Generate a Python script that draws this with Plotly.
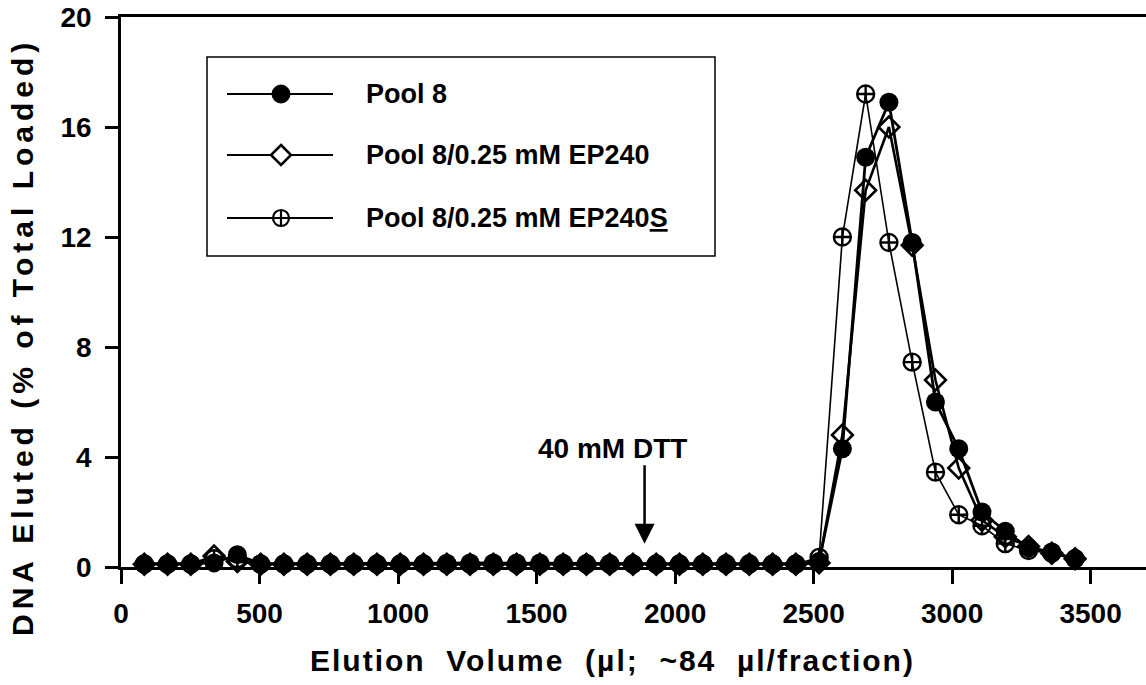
import plotly.graph_objects as go

# ---------------- data ----------------
elution_volume = [84, 168, 252, 336, 420, 504, 588, 672, 756, 840, 924, 1008, 1092, 1176,
                  1260, 1344, 1428, 1512, 1596, 1680, 1764, 1848, 1932, 2016, 2100, 2184,
                  2268, 2352, 2436, 2520, 2604, 2688, 2772, 2856, 2940, 3024, 3108, 3192,
                  3276, 3360, 3444]

pool8 = [0.12, 0.12, 0.12, 0.15, 0.45, 0.12, 0.12, 0.12, 0.12, 0.12, 0.12, 0.12, 0.12, 0.14,
         0.15, 0.15, 0.15, 0.15, 0.14, 0.13, 0.13, 0.12, 0.12, 0.12, 0.12, 0.13, 0.13,
         0.12, 0.12, 0.2, 4.3, 14.9, 16.9, 11.8, 6.0, 4.3, 2.0, 1.3, 0.7, 0.55, 0.3]

pool8_ep240 = [0.1, 0.1, 0.1, 0.4, 0.2, 0.1, 0.1, 0.1, 0.1, 0.1, 0.1, 0.1, 0.1, 0.1,
               0.1, 0.1, 0.1, 0.1, 0.1, 0.1, 0.1, 0.1, 0.1, 0.1, 0.1, 0.1, 0.1,
               0.1, 0.1, 0.15, 4.8, 13.7, 16.0, 11.7, 6.8, 3.6, 1.7, 1.1, 0.75, 0.5, 0.3]

pool8_ep240s = [0.1, 0.1, 0.1, 0.3, 0.3, 0.1, 0.1, 0.1, 0.1, 0.1, 0.1, 0.1, 0.1, 0.1,
                0.1, 0.1, 0.1, 0.1, 0.1, 0.1, 0.1, 0.1, 0.1, 0.1, 0.1, 0.1, 0.1,
                0.1, 0.1, 0.35, 12.0, 17.2, 11.8, 7.45, 3.45, 1.9, 1.5, 0.85, 0.6, 0.5, 0.3]

series_names = ["Pool 8", "Pool 8/0.25 mM EP240",
                "Pool 8/0.25 mM EP240<span style=\"text-decoration:underline\">S</span>"]
x_ticks = [0, 500, 1000, 1500, 2000, 2500, 3000, 3500]
y_ticks = [0, 4, 8, 12, 16, 20]
dtt_volume = 1890
dtt_label = "40 mM DTT"
x_title = "Elution  Volume  (µl;  ~84  µl/fraction)"
y_title = "DNA Eluted (% of Total Loaded)"

# ---------------- layout geometry ----------------
W, H = 1146, 685
L, R, T, B = 121, 0, 17, 118
PW, PH = W - L - R, H - T - B
FONT = "Liberation Sans, Arial, Helvetica, sans-serif"


def px(xp):
    return (xp - L) / PW


def py(yp):
    return (T + PH - yp) / PH


fig = go.Figure()

fig.add_trace(go.Scatter(
    x=elution_volume, y=pool8_ep240s, mode="lines+markers", cliponaxis=False,
    line=dict(color="black", width=1.6),
    marker=dict(symbol="circle-cross-open", size=17, color="black", line=dict(width=2.4, color="black")),
    showlegend=False))
fig.add_trace(go.Scatter(
    x=elution_volume, y=pool8_ep240, mode="lines+markers", cliponaxis=False,
    line=dict(color="black", width=2.6),
    marker=dict(symbol="diamond-open", size=16, color="black", line=dict(width=2.6, color="black")),
    showlegend=False))
fig.add_trace(go.Scatter(
    x=elution_volume, y=pool8, mode="lines+markers", cliponaxis=False,
    line=dict(color="black", width=2.8),
    marker=dict(symbol="circle", size=19, color="black"),
    showlegend=False))

shapes = []
annotations = []

# legend box
shapes.append(dict(type="rect", xref="paper", yref="paper", x0=px(207), x1=px(715), y0=py(57), y1=py(256),
                   line=dict(color="black", width=1.5), fillcolor="white", layer="above"))
legend_rows = [94, 155, 218]
for i, (yy, name) in enumerate(zip(legend_rows, series_names)):
    shapes.append(dict(type="line", xref="paper", yref="paper", x0=px(227), x1=px(333), y0=py(yy), y1=py(yy),
                       line=dict(color="black", width=2), layer="above"))
    common = dict(xref="paper", yref="paper", xsizemode="pixel", ysizemode="pixel",
                  xanchor=px(281), yanchor=py(yy), layer="above")
    if i == 0:
        shapes.append(dict(type="circle", x0=-9, x1=9, y0=-9, y1=9, fillcolor="black",
                           line=dict(color="black", width=1), **common))
    elif i == 1:
        shapes.append(dict(type="path", path="M0,10 L10,0 L0,-10 L-10,0 Z", fillcolor="white",
                           line=dict(color="black", width=2.6), **common))
    else:
        shapes.append(dict(type="circle", x0=-8, x1=8, y0=-8, y1=8, fillcolor="white",
                           line=dict(color="black", width=2.2), **common))
        shapes.append(dict(type="path", path="M-8,0 L8,0 M0,-8 L0,8",
                           line=dict(color="black", width=2.2), **common))
    annotations.append(dict(xref="paper", yref="paper", x=px(364), y=py(yy), xanchor="left", yanchor="middle",
                            text=name, showarrow=False,
                            font=dict(family=FONT, size=27, color="black", weight="bold")))

# DTT arrow
annotations.append(dict(x=dtt_volume, y=0.85, xref="x", yref="y", text="", showarrow=True,
                        ax=0, ay=-80, axref="pixel", ayref="pixel", arrowhead=2, arrowsize=1.6,
                        arrowwidth=2.5, arrowcolor="black"))
annotations.append(dict(xref="paper", yref="paper", x=px(612), y=py(448), xanchor="center", yanchor="middle",
                        text=dtt_label, showarrow=False,
                        font=dict(family=FONT, size=28, color="black", weight="bold")))

# axis titles
annotations.append(dict(xref="paper", yref="paper", x=px(612), y=py(660), xanchor="center", yanchor="middle",
                        text="<span style=\"letter-spacing:2px\">" + x_title + "</span>",
                        showarrow=False, font=dict(family=FONT, size=30, color="black", weight="bold")))
annotations.append(dict(xref="paper", yref="paper", x=px(22), y=py(337), xanchor="center", yanchor="middle",
                        textangle=-90,
                        text="<span style=\"letter-spacing:5px\">" + y_title + "</span>",
                        showarrow=False, font=dict(family=FONT, size=30, color="black", weight="bold")))

fig.update_layout(
    width=W, height=H, margin=dict(l=L, r=R, t=T, b=B, autoexpand=False),
    paper_bgcolor="white", plot_bgcolor="white",
    shapes=shapes, annotations=annotations,
    xaxis=dict(range=[0, 3700], tickvals=x_ticks, ticktext=[str(v) for v in x_ticks],
               showgrid=False, zeroline=False, showline=True, linecolor="black", linewidth=2.6,
               mirror=True, ticks="outside", ticklen=14, tickwidth=2.6, tickcolor="black",
               ticklabelstandoff=6,
               tickfont=dict(family=FONT, size=28, color="black", weight="bold")),
    yaxis=dict(range=[0, 20], tickvals=y_ticks, ticktext=[str(v) for v in y_ticks],
               showgrid=False, zeroline=False, showline=True, linecolor="black", linewidth=2.6,
               ticks="outside", ticklen=13, tickwidth=2.6, tickcolor="black",
               ticklabelstandoff=8,
               tickfont=dict(family=FONT, size=28, color="black", weight="bold")),
)

fig.write_html("out.html")
